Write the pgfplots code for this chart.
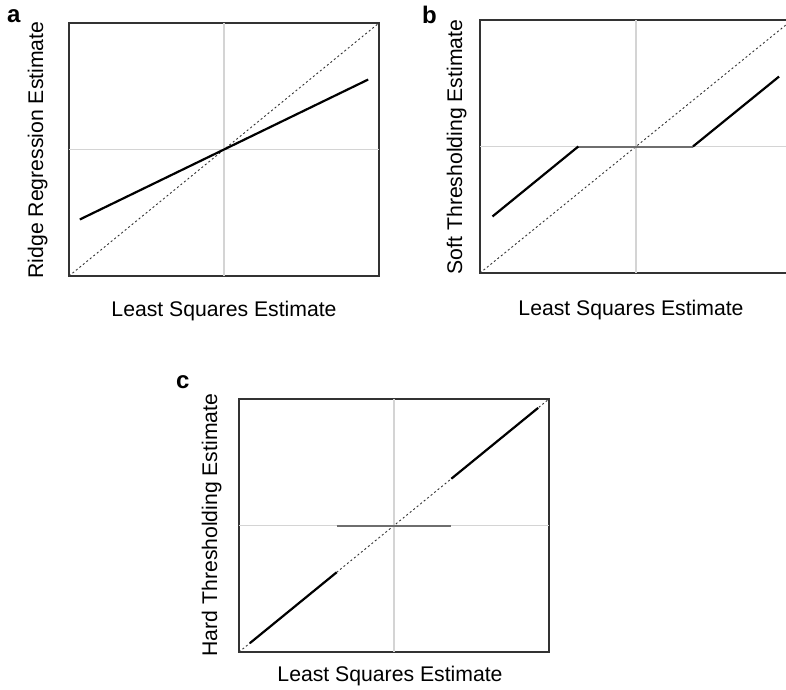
\documentclass[border=0pt]{standalone}
\usepackage{pgfplots}
\pgfplotsset{compat=1.18}
\usepackage{fontspec}
\setmainfont{Liberation Sans}
\definecolor{gridgray}{HTML}{D4D4D4}
\definecolor{flatgray}{HTML}{6E6E6E}
\definecolor{boxgray}{HTML}{333333}

\pgfplotsset{
  panel/.style={
    scale only axis, width=310pt, height=253pt,
    xmin=-1, xmax=1, ymin=-1, ymax=1,
    xtick=\empty, ytick=\empty,
    axis line style={boxgray, line width=1.3pt},
    clip=true,
  },
  est/.style={black, line width=2.2pt},
  ident/.style={boxgray, line width=0.9pt, dash pattern=on 2pt off 2.5pt},
  zero/.style={gridgray, line width=1.2pt},
}

\begin{document}
\begin{tikzpicture}
\useasboundingbox (0pt,0pt) rectangle (786pt,-689pt);
\tikzset{every node/.style={font=\fontsize{21.2}{25}\selectfont}}

% a: ridge
\begin{axis}[panel, at={(69pt,-276pt)}, anchor=south west]
  \addplot[zero] coordinates {(0,-1) (0,1)};
  \addplot[zero] coordinates {(-1,0) (1,0)};
  \addplot[ident] coordinates {(-1,-1) (1,1)};
  \addplot[est] coordinates {(-0.93,-0.553) (0.93,0.553)};
\end{axis}

% b: soft thresholding
\begin{axis}[panel, width=312pt, at={(480pt,-273pt)}, anchor=south west]
  \addplot[zero] coordinates {(0,-1) (0,1)};
  \addplot[zero] coordinates {(-1,0) (1,0)};
  \addplot[ident] coordinates {(-1,-1) (1,1)};
  \addplot[flatgray, line width=2pt] coordinates {(-0.37,0) (0.365,0)};
  \addplot[est] coordinates {(-0.92,-0.553) (-0.37,0)};
  \addplot[est] coordinates {(0.365,0) (0.917,0.553)};
\end{axis}

% c: hard thresholding
\begin{axis}[panel, at={(239pt,-652pt)}, anchor=south west]
  \addplot[zero] coordinates {(0,-1) (0,1)};
  \addplot[zero] coordinates {(-1,0) (1,0)};
  \addplot[ident] coordinates {(-1,-1) (1,1)};
  \addplot[flatgray, line width=2pt] coordinates {(-0.37,0) (0.37,0)};
  \addplot[est] coordinates {(-0.93,-0.93) (-0.37,-0.37)};
  \addplot[est] coordinates {(0.37,0.37) (0.93,0.93)};
\end{axis}

\node[anchor=base] at (224pt,-316pt) {Least Squares Estimate};
\node[anchor=base, rotate=90] at (43pt,-150pt) {Ridge Regression Estimate};
\node[anchor=base] at (631pt,-315pt) {Least Squares Estimate};
\node[anchor=base, rotate=90] at (462pt,-147pt) {Soft Thresholding Estimate};
\node[anchor=base] at (390pt,-681pt) {Least Squares Estimate};
\node[anchor=base, rotate=90] at (217pt,-525pt) {Hard Thresholding Estimate};

\node[anchor=base west, inner sep=0pt, font=\fontsize{24}{28}\selectfont\bfseries] at (7pt,-22pt) {a};
\node[anchor=base west, inner sep=0pt, font=\fontsize{24}{28}\selectfont\bfseries] at (422pt,-23pt) {b};
\node[anchor=base west, inner sep=0pt, font=\fontsize{24}{28}\selectfont\bfseries] at (176pt,-388pt) {c};
\end{tikzpicture}
\end{document}
